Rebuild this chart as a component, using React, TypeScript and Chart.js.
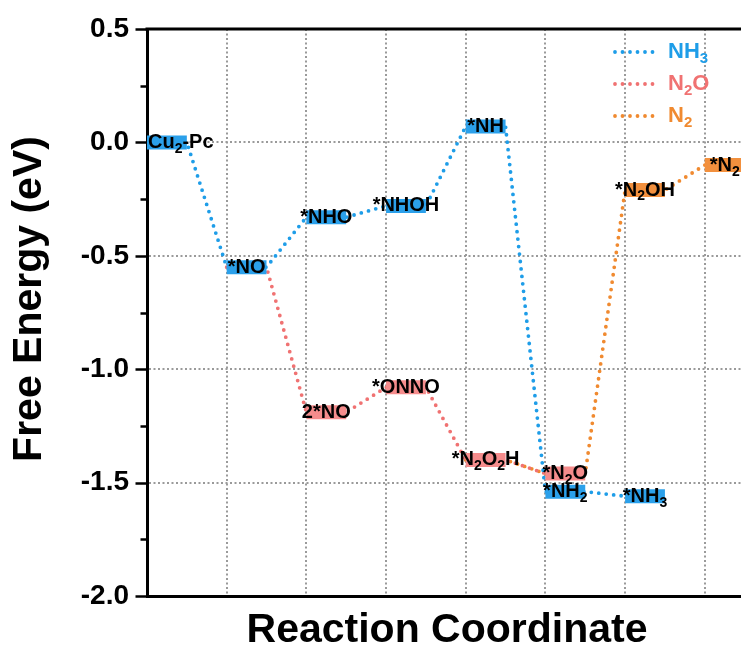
import React, { useEffect, useRef } from "react";
import { Chart, registerables } from "chart.js";
Chart.register(...registerables);

const FONT = "'Liberation Sans', Arial, Helvetica, sans-serif";

// ---- data ----
const seriesNames = ["NH_3", "N_2O", "N_2"];
const seriesColors = ["#1E9DE8", "#F07272", "#F08A30"];
const barColors = ["#2BA0EA", "#F58C8C", "#F2903E"];

const nh3Labels = ["Cu_2-Pc", "*NO", "*NHO", "*NHOH", "*NH", "*NH_2", "*NH_3"];
const nh3Steps = [0, 1, 2, 3, 4, 5, 6];
const nh3Energy = [0.0, -0.55, -0.33, -0.28, 0.07, -1.54, -1.56];

const n2oLabels = ["*NO", "2*NO", "*ONNO", "*N_2O_2H", "*N_2O"];
const n2oSteps = [1, 2, 3, 4, 5];
const n2oEnergy = [-0.55, -1.19, -1.08, -1.4, -1.46];

const n2Labels = ["*N_2O_2H", "*N_2O", "*N_2OH", "*N_2"];
const n2Steps = [4, 5, 6, 7];
const n2Energy = [-1.4, -1.46, -0.21, -0.1];

const yMin = -2.0;
const yMax = 0.5;
const xMin = 0;
const xMax = 7.53;
const LEVEL_SPAN = 0.5;

const xTitle = "Reaction Coordinate";
const yTitle = "Free Energy (eV)";

const pathways = [
  { labels: nh3Labels, steps: nh3Steps, energy: nh3Energy },
  { labels: n2oLabels, steps: n2oSteps, energy: n2oEnergy },
  { labels: n2Labels, steps: n2Steps, energy: n2Energy },
];

// ---- rich text (subscripts) ----
type Seg = { t: string; sub: boolean; w?: number };
function parseRich(text: string): Seg[] {
  const segs: Seg[] = [];
  let buf = "";
  for (let i = 0; i < text.length; i++) {
    if (text[i] === "_" && i + 1 < text.length) {
      if (buf) segs.push({ t: buf, sub: false });
      buf = "";
      segs.push({ t: text[i + 1], sub: true });
      i++;
    } else buf += text[i];
  }
  if (buf) segs.push({ t: buf, sub: false });
  return segs;
}
function measureRich(ctx: CanvasRenderingContext2D, text: string, size: number) {
  const segs = parseRich(text);
  let w = 0;
  for (const s of segs) {
    ctx.font = s.sub ? `bold ${Math.round(size * 0.7)}px ${FONT}` : `bold ${size}px ${FONT}`;
    s.w = ctx.measureText(s.t).width;
    w += s.w;
  }
  return { segs, w };
}
function drawRich(ctx: CanvasRenderingContext2D, text: string, x: number, y: number, size: number, color: string) {
  const { segs } = measureRich(ctx, text, size);
  ctx.save();
  ctx.fillStyle = color;
  ctx.textAlign = "left";
  ctx.textBaseline = "middle";
  let cx = x;
  for (const s of segs) {
    ctx.font = s.sub ? `bold ${Math.round(size * 0.7)}px ${FONT}` : `bold ${size}px ${FONT}`;
    ctx.fillText(s.t, cx, s.sub ? y + size * 0.33 : y);
    cx += s.w || 0;
  }
  ctx.restore();
}

// unique levels (first pathway owning a level sets its colour)
type Level = { step: number; e: number; label: string; color: string };
function buildLevels(): Level[] {
  const seen = new Set<string>();
  const out: Level[] = [];
  pathways.forEach((p, si) => {
    p.steps.forEach((s, i) => {
      const key = s + "|" + p.labels[i];
      if (seen.has(key)) return;
      seen.add(key);
      out.push({ step: s, e: p.energy[i], label: p.labels[i], color: barColors[si] });
    });
  });
  return out;
}

export default function App() {
  const ref = useRef<HTMLCanvasElement | null>(null);

  useEffect(() => {
    const canvas = ref.current;
    if (!canvas) return;
    const levels = buildLevels();

    const connectorSets = pathways.map((p, si) => ({
      label: seriesNames[si],
      data: p.steps.flatMap((s, i) => [
        { x: s, y: p.energy[i] },
        { x: s + LEVEL_SPAN, y: p.energy[i] },
      ]),
      borderColor: seriesColors[si],
      borderWidth: 3.8,
      borderDash: [0, 7.5],
      borderCapStyle: "round" as const,
      pointRadius: 0,
      tension: 0,
      order: 2 + si,
    }));

    const levelSets = levels.map((lv) => ({
      label: lv.label,
      data: [
        { x: lv.step, y: lv.e },
        { x: lv.step + LEVEL_SPAN, y: lv.e },
      ],
      borderColor: lv.color,
      borderWidth: 14,
      borderCapStyle: "butt" as const,
      pointRadius: 0,
      order: 1,
    }));

    const overlay = {
      id: "overlay",
      afterDraw(chart: any) {
        const ctx: CanvasRenderingContext2D = chart.ctx;
        const { left, right, top } = chart.chartArea;
        const xs = chart.scales.x;
        const ys = chart.scales.y;
        ctx.save();
        // top frame
        ctx.strokeStyle = "#000";
        ctx.lineWidth = 3;
        ctx.beginPath();
        ctx.moveTo(left - 1.5, top);
        ctx.lineTo(right + 1.5, top);
        ctx.stroke();
        // y tick marks (major + minor)
        ctx.lineWidth = 2.5;
        for (let v = yMin; v <= yMax + 1e-9; v += 0.25) {
          const py = Math.round(ys.getPixelForValue(v)) + 0.5;
          const major = Math.abs(v * 2 - Math.round(v * 2)) < 1e-6;
          const len = major ? 10 : 5;
          ctx.beginPath();
          ctx.moveTo(left - 1.5 - len, py);
          ctx.lineTo(left, py);
          ctx.stroke();
        }
        ctx.restore();

        // level labels
        for (const lv of levels) {
          const cx = xs.getPixelForValue(lv.step + LEVEL_SPAN / 2);
          const py = ys.getPixelForValue(lv.e);
          const { w } = measureRich(ctx, lv.label, 20);
          let x0 = cx - w / 2;
          if (x0 < left + 1) x0 = left + 1;
          drawRich(ctx, lv.label, x0, py, 20, "#000");
        }

        // legend
        seriesNames.forEach((name, i) => {
          const ly = top + 23 + i * 32;
          ctx.save();
          ctx.strokeStyle = seriesColors[i];
          ctx.lineWidth = 3.8;
          ctx.lineCap = "round";
          ctx.setLineDash([0, 7.5]);
          ctx.beginPath();
          ctx.moveTo(615, ly);
          ctx.lineTo(659, ly);
          ctx.stroke();
          ctx.restore();
          drawRich(ctx, name, 668, ly, 22, seriesColors[i]);
        });

        // axis titles
        ctx.save();
        ctx.fillStyle = "#000";
        ctx.font = `bold 41px ${FONT}`;
        ctx.textAlign = "center";
        ctx.textBaseline = "middle";
        ctx.fillText(xTitle, 447, 631);
        ctx.translate(30, 299);
        ctx.rotate(-Math.PI / 2);
        ctx.font = `bold 41px ${FONT}`;
        ctx.fillText(yTitle, 0, 0);
        ctx.restore();
      },
    };

    const chart = new Chart(canvas, {
      type: "line",
      data: { datasets: [...levelSets, ...connectorSets] as any },
      options: {
        animation: false,
        responsive: false,
        maintainAspectRatio: false,
        devicePixelRatio: 1,
        layout: { padding: { left: 0, top: 29, right: 13, bottom: 0 } },
        plugins: { legend: { display: false }, tooltip: { enabled: false }, title: { display: false } },
        scales: {
          x: {
            type: "linear",
            min: xMin,
            max: xMax,
            ticks: { display: false, stepSize: 1 },
            grid: {
              drawTicks: false,
              lineWidth: 2,
              color: (c: any) =>
                c.tick && c.tick.value > 0.5 && Math.abs(c.tick.value - Math.round(c.tick.value)) < 1e-6
                  ? "#9a9a9a"
                  : "rgba(0,0,0,0)",
            },
            border: { display: true, color: "#000", width: 3, dash: [2, 2.5] },
            afterFit: (s: any) => {
              s.height = 59;
              s.paddingLeft = 0;
              s.paddingRight = 0;
            },
          },
          y: {
            type: "linear",
            min: yMin,
            max: yMax,
            ticks: {
              stepSize: 0.5,
              padding: 18,
              color: "#000",
              font: { family: FONT, size: 28, weight: "bold" },
              callback: (v: any) => Number(v).toFixed(1),
            },
            grid: {
              drawTicks: false,
              lineWidth: 2,
              color: (c: any) =>
                c.tick && c.tick.value > yMin + 1e-6 && c.tick.value < yMax - 1e-6 ? "#9a9a9a" : "rgba(0,0,0,0)",
            },
            border: { display: true, color: "#000", width: 3, dash: [2, 2.5] },
            afterFit: (s: any) => {
              s.width = 147;
              s.paddingTop = 0;
              s.paddingBottom = 0;
            },
          },
        },
      },
      plugins: [overlay],
    });
    return () => chart.destroy();
  }, []);

  return (
    <div
      style={{
        position: "fixed",
        left: 0,
        top: 0,
        width: 741,
        height: 655,
        overflow: "hidden",
        background: "#fff",
      }}
    >
      <canvas ref={ref} width={760} height={655} style={{ display: "block" }} />
    </div>
  );
}
